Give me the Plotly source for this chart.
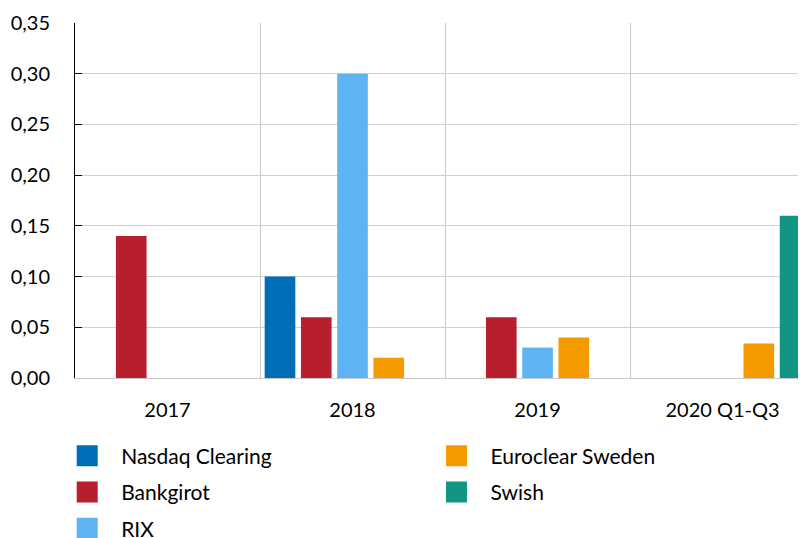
import plotly.graph_objects as go

categories = ["2017", "2018", "2019", "2020 Q1-Q3"]
nasdaq_clearing = [None, 0.10, None, None]
bankgirot = [0.14, 0.06, 0.06, None]
rix = [None, 0.30, 0.03, None]
euroclear_sweden = [None, 0.02, 0.04, 0.034]
swish = [None, None, None, 0.16]

series = [
    ("Nasdaq Clearing", nasdaq_clearing, "#006EB7", "legend", 1),
    ("Bankgirot", bankgirot, "#B81F2E", "legend", 2),
    ("RIX", rix, "#5EB3F2", "legend", 3),
    ("Euroclear Sweden", euroclear_sweden, "#F59B00", "legend2", 1),
    ("Swish", swish, "#129684", "legend2", 2),
]

FONT = "Lato, Calibri, Carlito, sans-serif"

# page is drawn with the browser's default 8px body margin
PAGE_OFF = 8
FIG_W, FIG_H = 806 - PAGE_OFF, 538 - PAGE_OFF
# plot area in page pixels
PLOT_L, PLOT_R, PLOT_T, PLOT_B = 75, 806, 22.7, 378.3


def px_to_paper_x(px):
    return (px - PLOT_L) / (PLOT_R - PLOT_L)


def px_to_paper_y(py):
    return (PLOT_B - py) / (PLOT_B - PLOT_T)


fig = go.Figure()
for name, vals, color, leg, rank in series:
    fig.add_trace(go.Bar(
        x=categories, y=vals, name=name,
        marker=dict(color=color, line=dict(width=0)),
        showlegend=False, legendgroup=name,
    ))
# legend keys: large square swatches (same series, shown only in legend)
for name, vals, color, leg, rank in series:
    fig.add_trace(go.Scatter(
        x=[None], y=[None], mode="markers", name=name,
        marker=dict(symbol="square", size=16, color=color,
                    line=dict(width=5, color=color)),
        legend=leg, legendgroup=name, legendrank=rank,
        hoverinfo="skip",
    ))

legend_common = dict(
    orientation="v", xanchor="left", yanchor="top",
    font=dict(family=FONT, size=21, color="#000000"),
    itemwidth=58, tracegroupgap=6, bgcolor="rgba(0,0,0,0)",
    borderwidth=0, traceorder="grouped",
)

fig.update_layout(
    width=FIG_W, height=FIG_H,
    margin=dict(l=PLOT_L - PAGE_OFF, r=FIG_W + PAGE_OFF - PLOT_R,
                t=PLOT_T - PAGE_OFF, b=FIG_H + PAGE_OFF - PLOT_B,
                autoexpand=False),
    paper_bgcolor="white", plot_bgcolor="white",
    separators=", ",
    barmode="group", bargap=0.02, bargroupgap=0.155,
    font=dict(family=FONT, size=20, color="#000000"),
    showlegend=True,
    legend=dict(x=px_to_paper_x(53.2), y=px_to_paper_y(436), **legend_common),
    legend2=dict(x=px_to_paper_x(422.5), y=px_to_paper_y(436), **legend_common),
    xaxis=dict(
        type="category", range=[-0.5, 3.451],
        categoryorder="array", categoryarray=categories,
        tickson="boundaries", showgrid=True, gridcolor="#C8C8C8", gridwidth=1,
        ticks="", showline=True, linecolor="#C8C8C8", linewidth=1,
        tickfont=dict(family=FONT, size=20, color="#000000"),
        ticklabelstandoff=14, tickangle=0,
    ),
    yaxis=dict(
        range=[0, 0.35], dtick=0.05, tickformat=".2f",
        showgrid=True, gridcolor="#D0D0D0", gridwidth=1, zeroline=False,
        showline=True, linecolor="#000000", linewidth=1,
        ticks="inside", ticklen=7, tickcolor="#000000", tickwidth=1,
        tickfont=dict(family=FONT, size=20, color="#000000"),
        ticklabelstandoff=20,
    ),
)

fig.write_html("out.html")
